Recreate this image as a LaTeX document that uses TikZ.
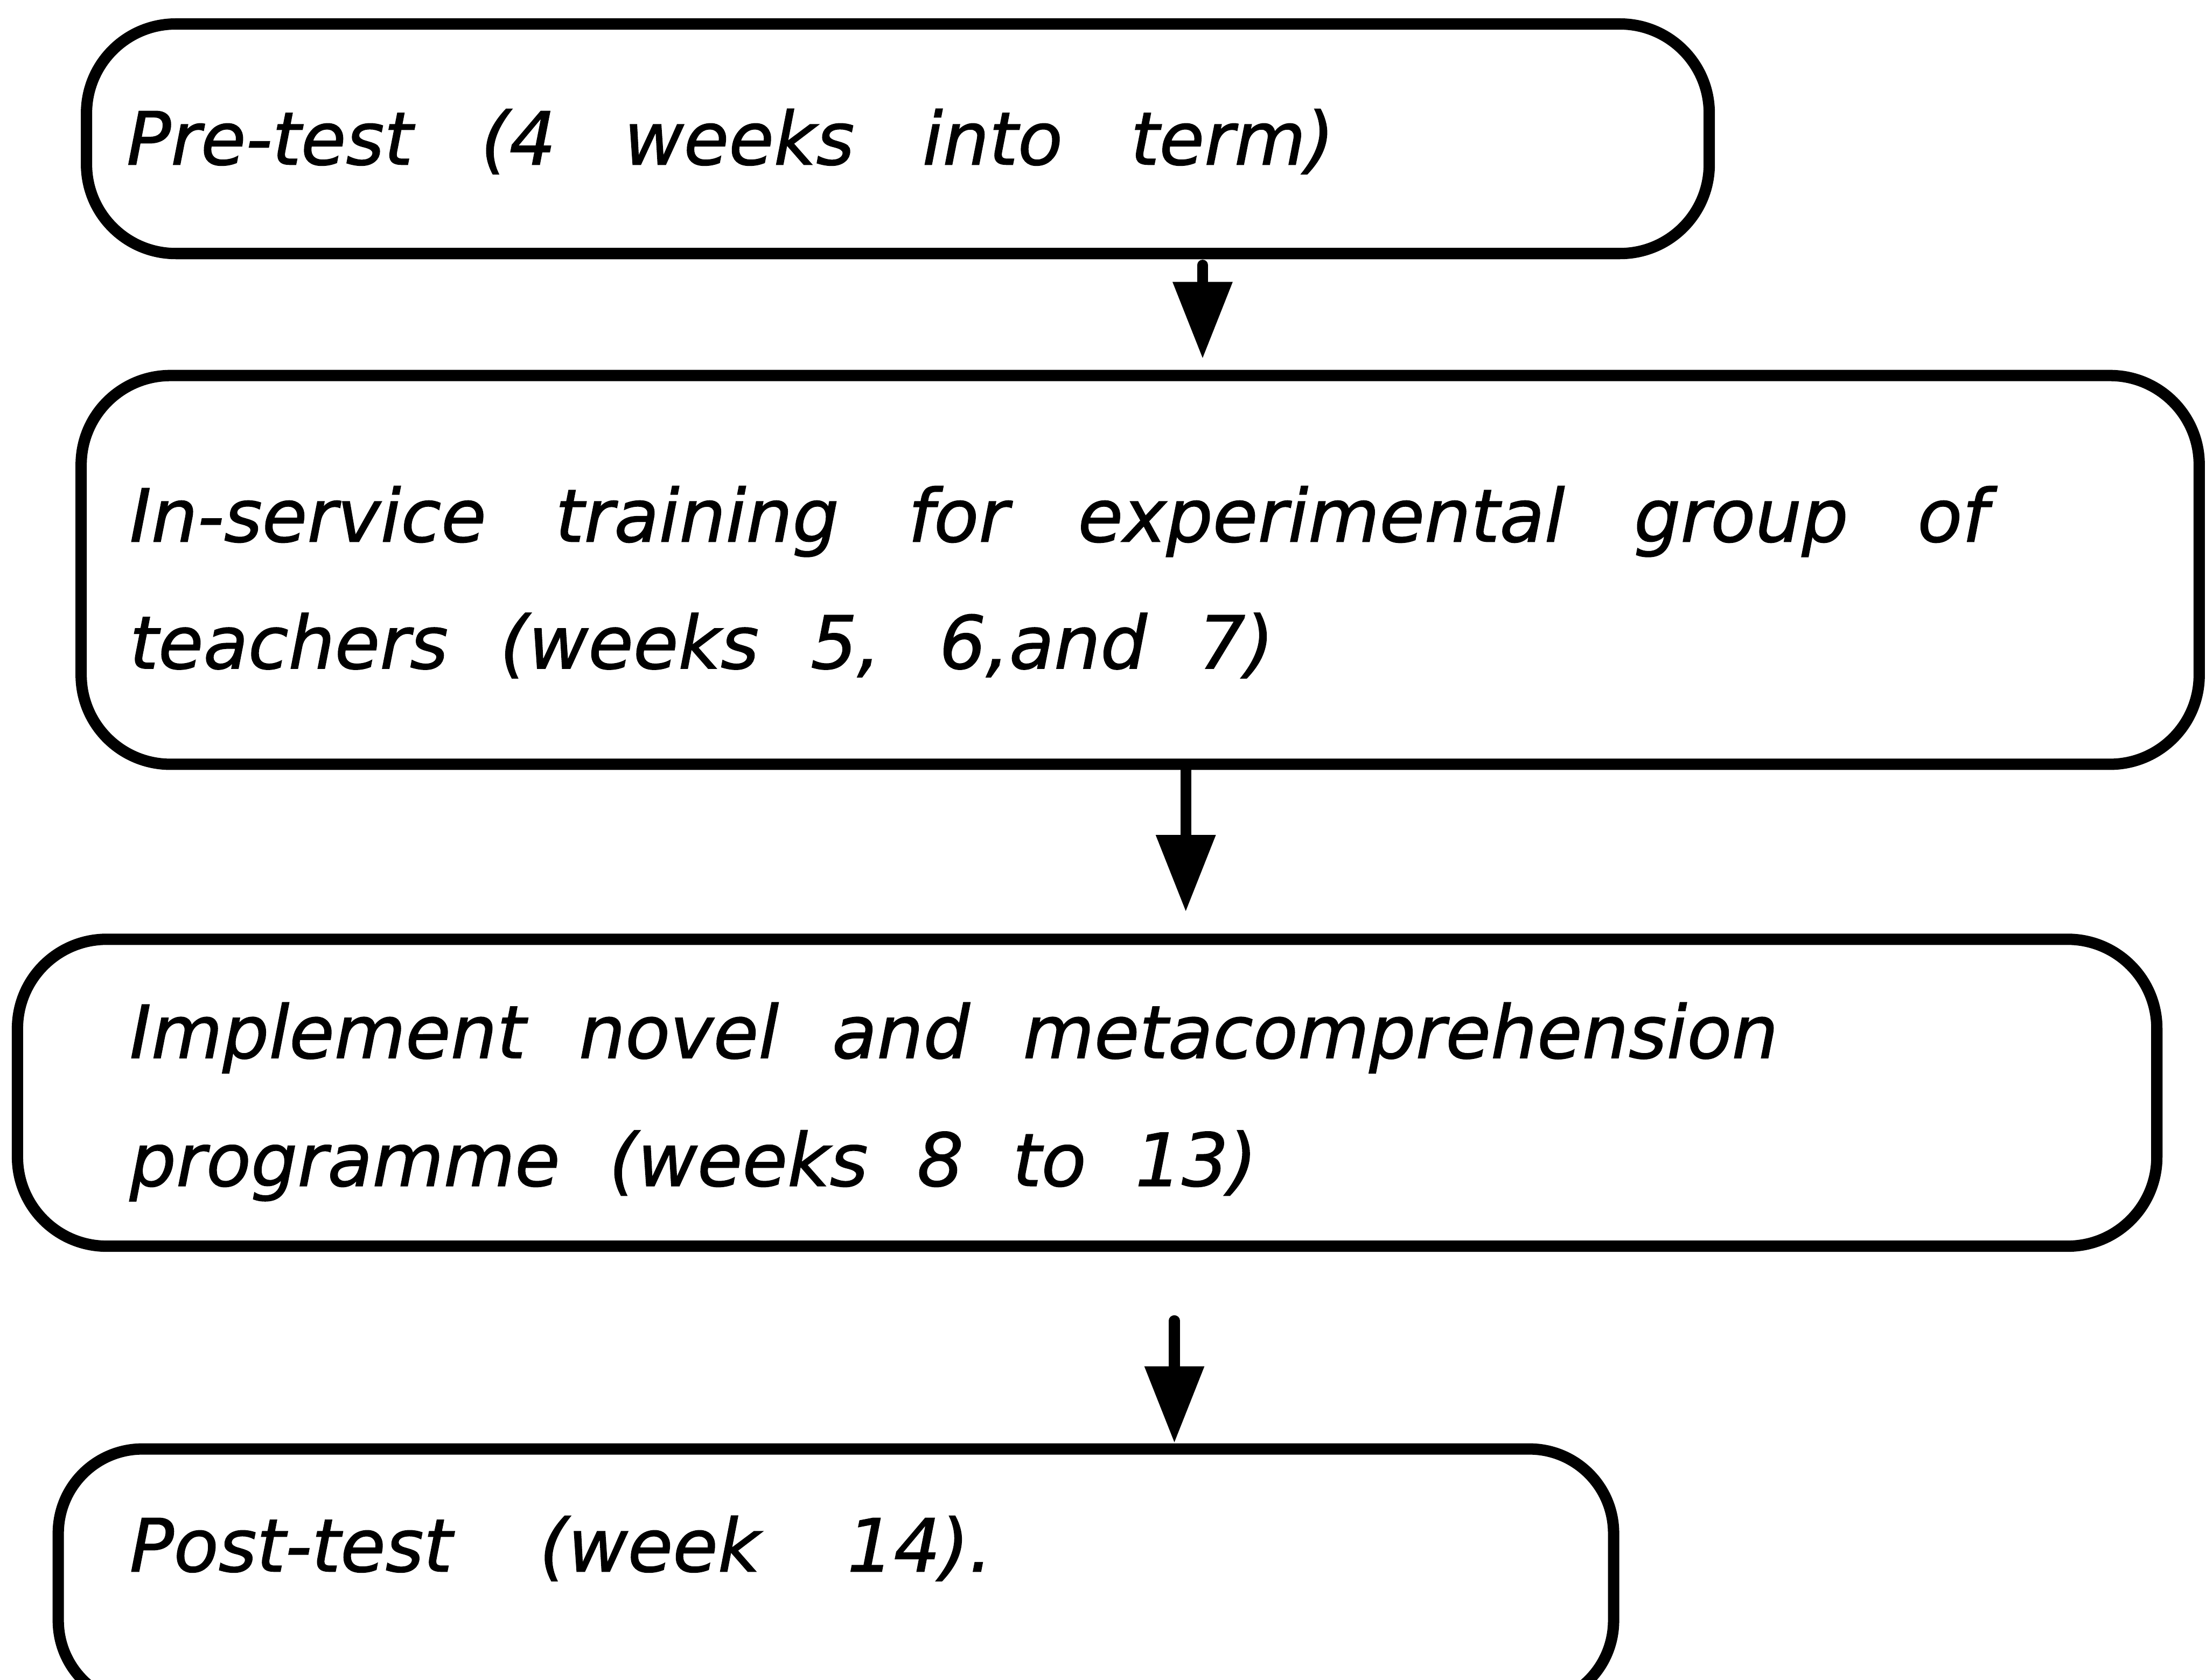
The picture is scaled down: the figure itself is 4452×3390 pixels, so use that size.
\documentclass[tikz,border=0pt]{standalone}
\usepackage{fontspec}
\setmainfont{DejaVu Sans}[ItalicFeatures={FakeBold=1.2}]
\usetikzlibrary{arrows.meta}
\tikzset{
  stagebox/.style={draw=black, line width=6.5pt, inner sep=0pt, anchor=center},
  linetext/.style={anchor=base west, inner sep=0pt, font=\itshape\fontsize{42}{50}\selectfont},
  flowarrow/.style={line width=0.22cm, line cap=round, -{Triangle[length=1.55cm,width=1.15cm]}}
}
\begin{document}
\begin{tikzpicture}[x=0.01cm, y=-0.01cm]
\useasboundingbox (0,0) rectangle (4452,3390);
\clip (0,0) rectangle (4452,3390);
\fill[white] (0,0) rectangle (4452,3390);
% boxes
\node[stagebox, rounded corners=1.8cm, minimum width=32.73cm, minimum height=4.63cm] (b1) at (1812,280) {};
\node[stagebox, rounded corners=1.8cm, minimum width=42.72cm, minimum height=7.84cm] (b2) at (2301,1150) {};
\node[stagebox, rounded corners=1.8cm, minimum width=43.15cm, minimum height=6.19cm] (b3) at (2194,2205) {};
\node[stagebox, rounded corners=1.7cm, minimum width=31.37cm, minimum height=5.16cm] (b4) at (1687,3182) {};
% texts
\node[linetext] (t1) at (255,332) {\makebox[24.36cm][s]{Pre-test (4 weeks into term)}};
\node[linetext] (t2a) at (261,1093) {\makebox[37.48cm][s]{In-service training for experimental group of}};
\node[linetext] (t2b) at (261,1349) {\makebox[23.08cm][s]{teachers (weeks 5, 6,and 7)}};
\node[linetext] (t3a) at (261,2135) {\makebox[33.25cm][s]{Implement novel and metacomprehension}};
\node[linetext] (t3b) at (261,2393) {\makebox[22.74cm][s]{programme (weeks 8 to 13)}};
\node[linetext] (t4) at (261,3171) {\makebox[17.40cm][s]{Post-test (week 14).}};
% arrows
\coordinate (a1s) at (2427,535);
\coordinate (a1e) at (2427,724);
\coordinate (a2s) at (2393,1547);
\coordinate (a2e) at (2393,1840);
\coordinate (a3s) at (2370,2665);
\coordinate (a3e) at (2370,2912);
\draw[flowarrow] (a1s) -- (a1e);
\draw[flowarrow] (a2s) -- (a2e);
\draw[flowarrow] (a3s) -- (a3e);
\end{tikzpicture}
\end{document}
